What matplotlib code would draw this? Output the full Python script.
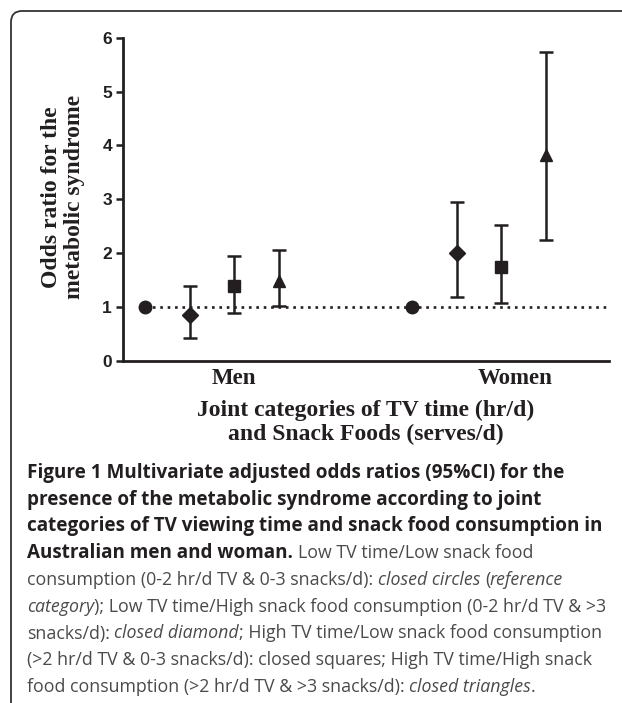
import matplotlib
matplotlib.use('Agg')
import matplotlib.pyplot as plt
from matplotlib.patches import FancyBboxPatch
from matplotlib.transforms import IdentityTransform

# odds ratios (95% CI)
groups = ['Men', 'Women']
odds = [[1.00, 0.85, 1.40, 1.48], [1.00, 2.00, 1.75, 3.82]]
lower = [[1.00, 0.42, 0.90, 1.02], [1.00, 1.19, 1.07, 2.25]]
upper = [[1.00, 1.40, 1.95, 2.06], [1.00, 2.96, 2.52, 5.74]]
yticks = [0, 1, 2, 3, 4, 5, 6]

ink = '#231f20'
markers = ['o', 'D', 's', '^']
msizes = [9, 8.5, 8.5, 9]

fig = plt.figure(figsize=(6.22, 7.03), dpi=100)
W, H = 622, 703
ax = fig.add_axes([123 / W, 342 / H, (609 - 123) / W, (361 - 37.7) / H])

for g in range(len(groups)):
    for i in range(4):
        x = g * 6 + 0.5 + i
        o = odds[g][i]
        if upper[g][i] > lower[g][i]:
            ax.errorbar(x, o, yerr=[[o - lower[g][i]], [upper[g][i] - o]],
                        fmt='none', ecolor=ink, elinewidth=1.8,
                        capsize=4.8, capthick=1.8, zorder=3)
        ax.plot(x, o, marker=markers[i], ms=msizes[i], color=ink,
                linestyle='none', zorder=4)

# reference line at OR = 1
ax.hlines(1, 0.5, 10.92, colors=ink, linewidth=1.9,
          linestyles=(0, (1, 1.8)), zorder=2)

ax.set_xlim(0, 10.92)
ax.set_ylim(0, 6)
ax.set_yticks(yticks)
ax.set_xticks([])
for side in ['top', 'right']:
    ax.spines[side].set_visible(False)
for side in ['left', 'bottom']:
    ax.spines[side].set_linewidth(2)
    ax.spines[side].set_color(ink)
ax.tick_params(axis='y', length=5, width=1.8, color=ink, pad=3)
for lab in ax.get_yticklabels():
    lab.set_fontfamily('Liberation Sans')
    lab.set_fontweight('bold')
    lab.set_fontsize(12.5)
    lab.set_color(ink)

serif = dict(family='Liberation Serif', weight='bold', color=ink)
fig.text(234 / W, 1 - 379 / H, groups[0], ha='center', va='center',
         fontsize=16.5, **serif)
fig.text(515 / W, 1 - 379 / H, groups[1], ha='center', va='center',
         fontsize=16.5, **serif)

fig.text(63 / W, 1 - 197 / H, 'Odds ratio for the\nmetabolic syndrome',
         rotation=90, ha='center', va='center', fontsize=17,
         linespacing=1.15, **serif)
fig.text(366 / W, 1 - 422.5 / H,
         'Joint categories of TV time (hr/d)\nand Snack Foods (serves/d)',
         ha='center', va='center', fontsize=17, linespacing=1.15, **serif)

# rounded frame
frame = FancyBboxPatch((0.11, -0.5), 7.0, 7.42,
                       boxstyle='round,pad=0,rounding_size=0.11',
                       transform=fig.dpi_scale_trans, fill=False,
                       edgecolor='#333333', linewidth=1.3)
fig.add_artist(frame)

# caption, drawn run by run
B = dict(family='Open Sans', weight='bold', color=ink, size=13.6)
R = dict(family='Open Sans', weight='normal', color='#4a4a4a', size=12.8)
I = dict(family='Open Sans', weight='normal', style='italic', color='#4a4a4a', size=12.8)

caption = [
    [('Figure 1 Multivariate adjusted odds ratios (95%CI) for the', B)],
    [('presence of the metabolic syndrome according to joint', B)],
    [('categories of TV viewing time and snack food consumption in', B)],
    [('Australian men and woman.', B), (' Low TV time/Low snack food', R)],
    [('consumption (0-2 hr/d TV & 0-3 snacks/d): ', R), ('closed circles', I),
     (' (', R), ('reference', I)],
    [('category', I), ('); Low TV time/High snack food consumption (0-2 hr/d TV & >3', R)],
    [('snacks/d): ', R), ('closed diamond', I), ('; High TV time/Low snack food consumption', R)],
    [('(>2 hr/d TV & 0-3 snacks/d): closed squares; High TV time/High snack', R)],
    [('food consumption (>2 hr/d TV & >3 snacks/d): ', R), ('closed triangles', I), ('.', R)],
]

renderer = fig.canvas.get_renderer()


def text_width(s, style):
    t = fig.text(0, 0, s, transform=IdentityTransform(), **style)
    w = t.get_window_extent(renderer).width
    t.remove()
    return w


def space_width(style):
    return text_width('x x', style) - text_width('xx', style)


for k, line in enumerate(caption):
    x = 27
    y = H - (473 + k * 26.75)
    for s, style in line:
        core = s.strip()
        x += (len(s) - len(s.lstrip())) * space_width(style)
        if core:
            t = fig.text(x, y, core, transform=IdentityTransform(),
                         va='center', ha='left', **style)
            x += t.get_window_extent(renderer).width
        x += (len(s) - len(s.rstrip())) * space_width(style)

fig.savefig('out.png', dpi=100)
